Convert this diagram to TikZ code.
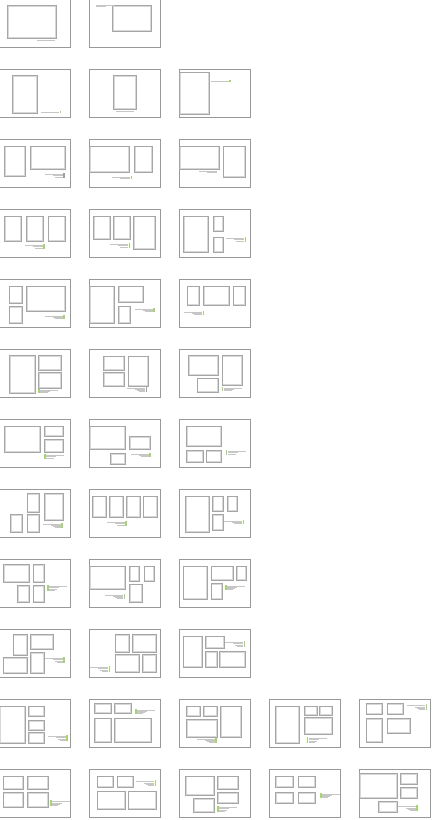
\documentclass[tikz,border=0pt]{standalone}
\usepackage{xcolor}
\usepackage{tikz}

\definecolor{capgreen}{HTML}{A8D46F}
\definecolor{pagegray}{HTML}{999999}
\definecolor{photogray}{HTML}{A6A6A6}
\definecolor{photolight}{HTML}{D8D8D8}

% one thumbnail: column, row, contents (local px, y down)
\newcommand{\layout}[3]{%
  \begin{scope}[shift={({90*#1-0.6},{70*#2-0.6})}]
    \draw[page] (0,0) rectangle (71,48);
    #3
  \end{scope}}
\newcommand{\photo}[4]{%
  \draw[photoin] (#1+0.9,#2+0.9) rectangle (#3-0.9,#4-0.9);
  \draw[photo] (#1,#2) rectangle (#3,#4);}
% caption block, lines flush right against the bar at x
\newcommand{\capR}[4][capgreen]{%
  \fill[#1] (#2-1.6,#3+0.3) rectangle (#2,#3+#4*1.3+0.7);
  \foreach \w/\i in {18/1,10/2,8/3,6/4}
    {\ifnum\i>#4 \else \draw[captxt] (#2-2-\w,#3+\i*1.3) -- (#2-2,#3+\i*1.3);\fi}}
% caption block, lines flush left after the bar at x
\newcommand{\capL}[4][capgreen]{%
  \fill[#1] (#2,#3+0.3) rectangle (#2+1.6,#3+#4*1.3+0.7);
  \foreach \w/\i in {18/1,10/2,8/3,6/4}
    {\ifnum\i>#4 \else \draw[captxt] (#2+2,#3+\i*1.3) -- (#2+2+\w,#3+\i*1.3);\fi}}

\begin{document}
\begin{tikzpicture}[x=0.5mm, y=-0.5mm,
    page/.style={draw=pagegray, line width=0.8pt},
    photo/.style={draw=photogray, line width=0.75pt},
    photoin/.style={draw=photolight, line width=0.75pt},
    captxt/.style={draw=gray!45, line width=0.4pt}]
\useasboundingbox (0,0) rectangle (435,820);

% one picture
\layout{0}{0}{\photo{8}{6}{57}{39} \capR[white]{57.4}{39.5}{1}}
\layout{1}{0}{\photo{23}{6}{61.4}{31.7} \capL[white]{5}{4}{2}}

% one portrait picture
\layout{0}{1}{\photo{12.7}{6}{38}{43.4} \capR{61.7}{41.5}{1}}
\layout{1}{1}{\photo{24}{6}{46.7}{39.4} \capR[white]{46.3}{40.5}{1}}
\layout{2}{1}{\photo{0}{2.4}{29.4}{45} \capR{51.4}{10.5}{1}}

% two pictures
\layout{0}{2}{\photo{4.7}{6.4}{25.4}{37} \photo{30.7}{6.4}{65.4}{29.7}
  \capR[gray!75]{65.4}{33.5}{3}}
\layout{1}{2}{\photo{0}{6.4}{39.4}{32.4} \photo{45}{6.4}{62.7}{32.4}
  \capR{42.7}{36.5}{2}}
\layout{2}{2}{\photo{0}{6.4}{39.7}{30} \photo{43.4}{6.4}{65.4}{37.4}
  \capR[white]{40}{30.5}{2}}

% three pictures
\layout{0}{3}{\photo{4.7}{6.4}{22}{32} \photo{26.7}{6.4}{44}{32}
  \photo{48.4}{6.4}{66}{32} \capR{45.4}{34.5}{3}}
\layout{1}{3}{\photo{4}{6.4}{20.7}{29.4} \photo{24}{6.4}{40.7}{29.4}
  \photo{44}{6.4}{66}{40} \capR{40.7}{33.5}{3}}
\layout{2}{3}{\photo{4}{6.4}{28.7}{42.4} \photo{34}{6.4}{44}{21.4}
  \photo{34}{27.4}{44}{42.4} \capR{66.7}{27.5}{3}}

\layout{0}{4}{\photo{9.4}{6.4}{22.4}{24} \photo{9.4}{26.7}{22.4}{43.7}
  \photo{26.7}{6.4}{65.4}{31.7} \capR{65.4}{35}{3}}
\layout{1}{4}{\photo{0}{6.4}{25}{43.4} \photo{29}{6.4}{54}{23}
  \photo{29}{26.4}{40.7}{43.4} \capR{65.4}{28}{3}}
\layout{2}{4}{\photo{7.4}{6.4}{20}{25.7} \photo{24}{6.4}{49.4}{25.7}
  \photo{53.4}{6.4}{66}{25.7} \capR{24.7}{31}{3}}

\layout{0}{5}{\photo{10}{5.7}{36}{44} \photo{39}{5.7}{61.4}{20.7}
  \photo{39}{23}{61.4}{38.4} \capL{39}{39}{3}}
\layout{1}{5}{\photo{14}{6.4}{35}{20.7} \photo{14}{23}{35}{36.7}
  \photo{38.4}{6.4}{58.4}{36.7} \capR[gray!75]{58}{37}{4}}
\layout{2}{5}{\photo{9}{5.7}{39}{25.4} \photo{42.4}{5.7}{62.7}{35.7}
  \photo{17.4}{28.4}{39}{43} \capL{42.4}{37}{3}}

\layout{0}{6}{\photo{4.7}{6.4}{40.7}{32.4} \photo{45}{6.4}{63.7}{16.7}
  \photo{45}{20}{63.7}{32.4} \capL{45}{34.5}{3}}
\layout{1}{6}{\photo{0}{6.4}{36}{30} \photo{40}{16.7}{60.7}{30}
  \photo{20.7}{34}{36}{44.7} \capR{61.4}{33}{3}}
\layout{2}{6}{\photo{6.7}{6.4}{41.7}{26.7} \photo{6.7}{30.7}{23.4}{42.4}
  \photo{26.4}{30.7}{41.7}{42.4} \capL{46.4}{30.5}{3}}

% four pictures
\layout{0}{7}{\photo{27.4}{4}{39.4}{22.4} \photo{44.7}{4}{63.4}{30.7}
  \photo{10.7}{24.7}{22.7}{43} \photo{27.4}{24.7}{39.4}{43} \capR{63.4}{33}{4}}
\layout{1}{7}{\photo{2.7}{6.4}{16.7}{27.4} \photo{20}{6.4}{34}{27.4}
  \photo{36.7}{6.4}{50.7}{27.4} \photo{53.4}{6.4}{67.4}{27.4} \capR{37.4}{31.5}{3}}
\layout{2}{7}{\photo{6}{6.4}{29.4}{43} \photo{33}{6.4}{43.4}{22}
  \photo{47.7}{6.4}{58}{22} \photo{33}{24.7}{43.4}{40.7} \capR{64.7}{30}{3}}

\layout{0}{8}{\photo{4}{4.7}{29.4}{22.4} \photo{33.4}{4.7}{44.7}{22.4}
  \photo{18}{25.7}{29.4}{43} \photo{33.4}{25.7}{44.7}{43} \capL{48}{25.5}{4}}
\layout{1}{8}{\photo{0}{6.4}{35.7}{30} \photo{39.7}{6.4}{50}{21.7}
  \photo{54.4}{6.4}{64.4}{21.7} \photo{39.7}{24.4}{52.4}{43} \capR{35.7}{34}{4}}
\layout{2}{8}{\photo{3.4}{6.4}{27.4}{40} \photo{31.4}{6.4}{53.4}{20.7}
  \photo{56.7}{6.4}{67}{20.7} \photo{31.4}{24}{42.4}{40} \capL{45.7}{25}{4}}

\layout{0}{9}{\photo{13.4}{4.7}{27.4}{25.4} \photo{30.7}{4.7}{54}{20}
  \photo{3.4}{27.7}{27.4}{44} \photo{30.7}{23}{44.7}{44} \capR{65.4}{27.5}{4}}
\layout{1}{9}{\photo{25.4}{4.7}{39.4}{23} \photo{43}{4.7}{66.7}{23}
  \photo{25.4}{25}{49.7}{43} \photo{53}{25}{66.7}{43} \capR{21}{36.5}{4}}
\layout{2}{9}{\photo{3.4}{6.4}{23}{37.4} \photo{25.7}{6.4}{44.7}{19}
  \photo{25.7}{21.7}{37.4}{37.4} \photo{39.7}{21.7}{65.7}{37.4} \capR{65.7}{11.5}{4}}

\layout{0}{10}{\photo{0}{6.4}{25.4}{43.4} \photo{29}{6.4}{45}{16.7}
  \photo{29}{20.7}{45}{30.7} \photo{29}{33}{45}{43.4} \capR{68.4}{35.5}{4}}
\layout{1}{10}{\photo{5}{4}{21.7}{14} \photo{25}{4}{41.7}{14}
  \photo{5}{18.4}{21.7}{43} \photo{25}{18.4}{61.7}{43} \capL{45.7}{9}{4}}
\layout{2}{10}{\photo{6.7}{6.4}{20.7}{16.4} \photo{24}{6.4}{37.4}{16.4}
  \photo{6.7}{20}{37.4}{37.4} \photo{40.7}{6.4}{61.4}{37.4} \capR{37.4}{38}{4}}
\layout{3}{10}{\photo{6}{6.4}{30}{43.4} \photo{35}{6.4}{47.4}{15.7}
  \photo{50}{6.4}{62.4}{15.7} \photo{35}{18}{62.4}{35} \capL{37.4}{37.5}{4}}
\layout{4}{10}{\photo{6.4}{4}{23}{14.7} \photo{27.4}{4}{44}{14.7}
  \photo{6.4}{19}{23}{43} \photo{27.4}{19}{50.7}{34} \capR{67.7}{4.7}{4}}

\layout{0}{11}{\photo{3.4}{6.4}{24}{20} \photo{28}{6.4}{48.4}{20}
  \photo{3.4}{23}{24}{37.4} \photo{28}{23}{48.4}{37.4} \capL{50.7}{30.7}{4}}
\layout{1}{11}{\photo{7.4}{6.4}{23.4}{17.4} \photo{27.4}{6.4}{44}{17.4}
  \photo{7.4}{21.4}{35.7}{39.7} \photo{38.4}{21.4}{66.7}{39.7} \capR{66.7}{10.7}{4}}
\layout{2}{11}{\photo{5.7}{6.4}{35}{25.7} \photo{38}{6.4}{58.7}{20}
  \photo{38}{23}{58.7}{34} \photo{14}{29}{35}{43} \capL{38}{36.4}{4}}
\layout{3}{11}{\photo{6}{6.4}{24}{17.4} \photo{28.4}{6.4}{45.7}{17.4}
  \photo{6}{23}{24}{34} \photo{28.4}{23}{45.7}{34} \capL{50.7}{23}{4}}
\layout{4}{11}{\photo{0}{4}{37.4}{29} \photo{40.7}{4}{57.4}{15}
  \photo{40.7}{18}{57.4}{29} \photo{19}{31.7}{37.4}{43} \capR{58.4}{35.7}{4}}
\end{tikzpicture}
\end{document}
